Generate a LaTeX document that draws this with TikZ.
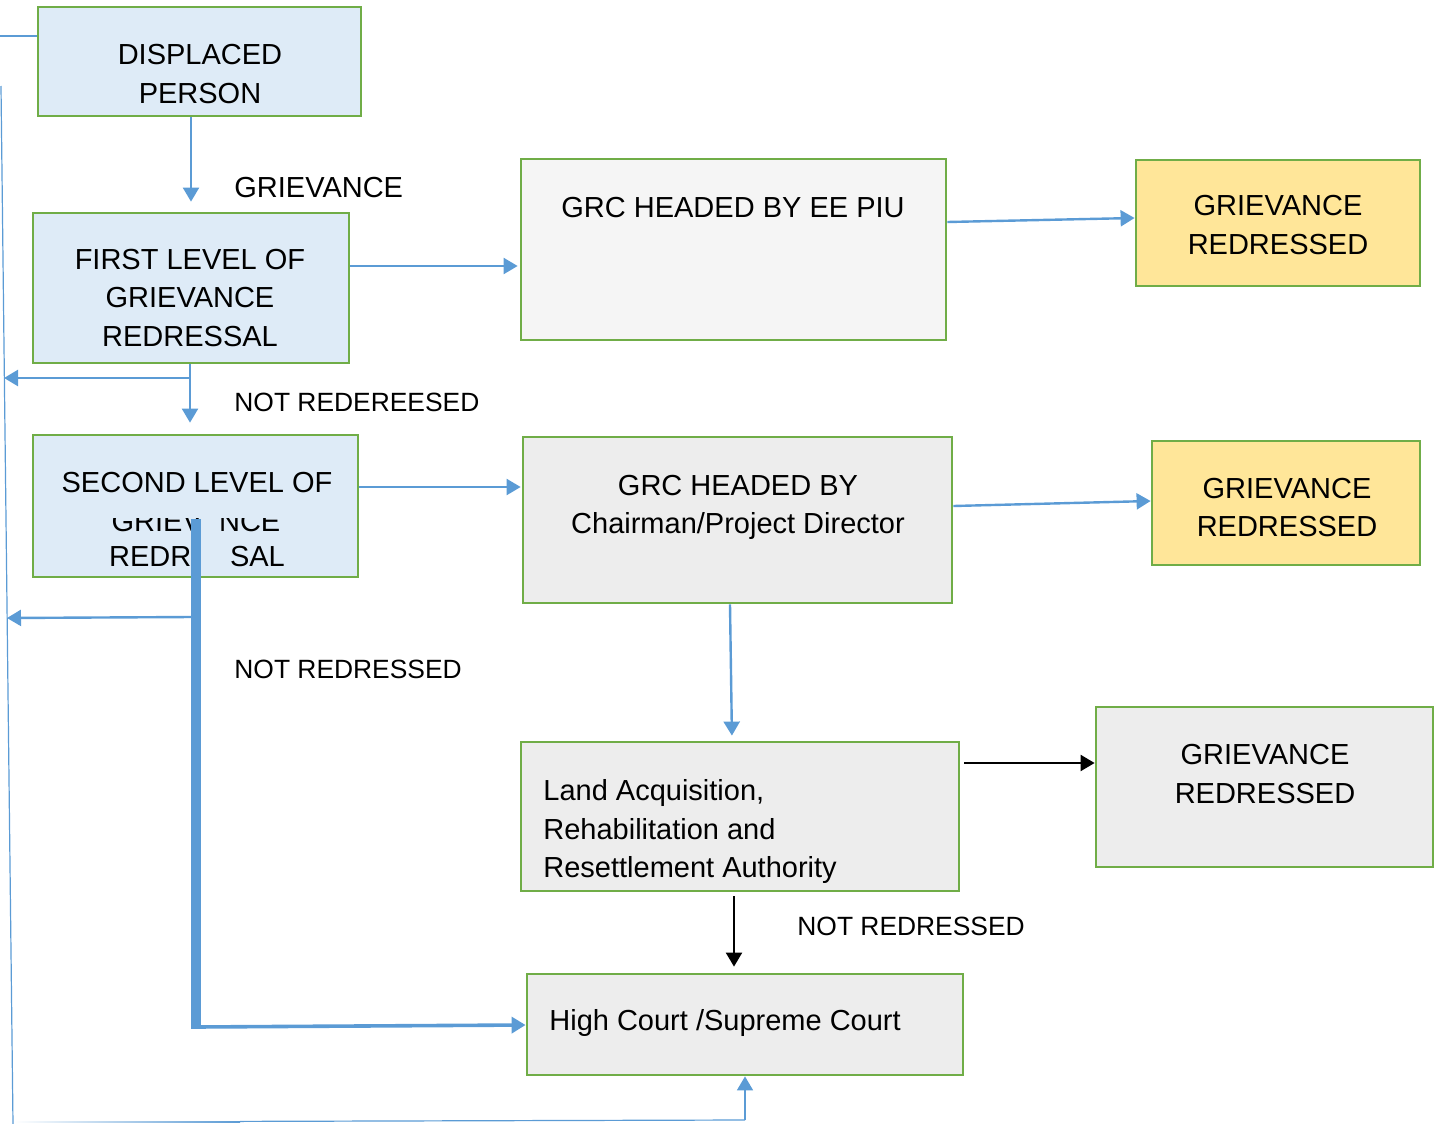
\documentclass[tikz,border=0pt]{standalone}
\usepackage{fontspec}
\setmainfont{Liberation Sans}
\usetikzlibrary{arrows.meta,fit}
\definecolor{edgegreen}{HTML}{70AD47}
\definecolor{flowblue}{HTML}{5B9BD5}
\definecolor{paleblue}{HTML}{DEEBF7}
\definecolor{palegray}{HTML}{EDEDED}
\definecolor{whitegray}{HTML}{F5F5F5}
\definecolor{paleyellow}{HTML}{FFE699}
\tikzset{
  box/.style={draw=edgegreen, line width=1.4pt, inner sep=0pt},
  lbl/.style={font=\fontsize{14.5}{19.2}\selectfont, align=center, inner sep=0pt},
  lbll/.style={lbl, align=left, anchor=west},
  flowlbl/.style={lbll, font=\fontsize{13.2}{16}\selectfont},
  bluearrow/.style={draw=flowblue, line width=1.2pt, -{Triangle[length=7pt,width=8pt]}},
  blackarrow/.style={draw=black, line width=1.1pt, -{Triangle[length=7pt,width=8pt]}},
  thinline/.style={draw=flowblue, line width=0.6pt},
}
\begin{document}
\begin{tikzpicture}[x=0.5pt,y=-0.5pt]
\useasboundingbox (0,0) rectangle (1436,1124);

% boxes
\node[box, fill=paleblue, fit={(38,7) (361,116)}] (dp) {};
\node[box, fill=paleblue, fit={(33,213) (349,363)}] (fl) {};
\node[box, fill=paleblue, fit={(33,435) (358,577)}] (sl) {};
\node[box, fill=whitegray, fit={(521,159) (946,340)}] (grc1) {};
\node[box, fill=paleyellow, fit={(1136,160) (1420,286)}] (gr1) {};
\node[box, fill=palegray, fit={(523,437) (952,603)}] (grc2) {};
\node[box, fill=paleyellow, fit={(1152,441) (1420,565)}] (gr2) {};
\node[box, fill=palegray, fit={(521,742) (959,891)}] (larr) {};
\node[box, fill=palegray, fit={(1096,707) (1433,867)}] (gr3) {};
\node[box, fill=palegray, fit={(527,974) (963,1075)}] (hc) {};

% box texts
\node[lbl] (tdp) at (200,74) {DISPLACED\\PERSON};
\node[lbl] (tfl) at (190,298) {FIRST LEVEL OF\\GRIEVANCE\\REDRESSAL};
\node[lbl] (tsl1) at (197,483) {SECOND LEVEL OF};
\node[lbl] (tsl2) at (196,522) {GRIEVANCE};
\node[lbl] (tsl3) at (197,557) {REDRESSAL};
% patches of box colour over the covered letters
\fill[paleblue] (100,503) rectangle (300,518);
\fill[paleblue] (200,518) rectangle (221,540);
\fill[paleblue] (200,540) rectangle (229.5,574);
\node[lbl] (tgrc1) at (733,208) {GRC HEADED BY EE PIU};
\node[lbl] (tgr1) at (1278,225) {GRIEVANCE\\REDRESSED};
\node[lbl, anchor=north] (tgrc2) at (738,474.5) {GRC HEADED BY\\Chairman/Project Director};
\node[lbl] (tgr2) at (1287,507.5) {GRIEVANCE\\REDRESSED};
\node[lbll, anchor=north west] (tlarr) at (543,779.5) {Land Acquisition,\\Rehabilitation and\\Resettlement Authority};
\node[lbl] (tgr3) at (1265,774) {GRIEVANCE\\REDRESSED};
\node[lbll] (thc) at (549,1023) {High Court /Supreme Court};

% connector labels
\node[lbll] (lg) at (234,188) {GRIEVANCE};
\node[flowlbl] (lnr1) at (234,402) {NOT REDEREESED};
\node[flowlbl] (lnr2) at (234,669) {NOT REDRESSED};
\node[flowlbl] (lnr3) at (797,926) {NOT REDRESSED};

% free ends of the side branches
\coordinate (fork1) at (190,378);
\coordinate (edge1) at (4,378);
\coordinate (fork2) at (192,617);
\coordinate (edge2) at (7,618);
\coordinate (tstart) at (196,519);
\coordinate (tcorner) at (196,1027);
\coordinate (loopa) at (0,36);
\coordinate (loopb) at (1,86);
\coordinate (loopc) at (13,1124);
\coordinate (loopd) at (14,1122);
\coordinate (loopm) at (240,1121.4);
\coordinate (loope) at (745,1120);

% main flow
\draw[bluearrow, shorten >=5pt] (dp.south -| 191,0) -- (fl.north -| 191,0);
\draw[bluearrow, shorten >=1pt] (fl.east |- 0,266) -- (grc1.west |- 0,266);
\draw[bluearrow] (grc1.east |- 0,222) -- (gr1.west |- 0,218);
\draw[bluearrow, shorten >=5.5pt] (fl.south -| 190,0) -- (sl.north -| 190,0);
\draw[bluearrow] (fork1) -- (edge1);
\draw[bluearrow, shorten >=0.5pt] (sl.east |- 0,487) -- (grc2.west |- 0,487);
\draw[bluearrow] (grc2.east |- 0,506) -- (gr2.west |- 0,501);
\draw[bluearrow, shorten >=2.5pt] (grc2.south -| 730,0) -- (larr.north -| 732,0);
\draw[blackarrow, shorten <=2pt] (larr.east |- 0,763) -- (gr3.west |- 0,763);
\draw[blackarrow, shorten <=2pt, shorten >=3pt] (larr.south -| 734,0) -- (hc.north -| 734,0);

% second-level bypass to the courts
\draw[flowblue, line width=5pt] (tstart) -- ([yshift=-1pt]tcorner);
\draw[bluearrow, line width=1.8pt] (tcorner) -- (hc.west |- 0,1025);
\draw[bluearrow] (fork2) -- (edge2);

% outer loop from the displaced person
\draw[thinline] (dp.west |- 0,36) -- (loopa);
\draw[thinline] (loopb) -- (loopc);
\shade[left color=white, right color=flowblue] (14,1121) rectangle (240,1122.4);
\draw[thinline] (loopm) -- (loope);
\draw[bluearrow, line width=0.9pt] (loope) -- (hc.south -| 745,0);
\end{tikzpicture}
\end{document}
